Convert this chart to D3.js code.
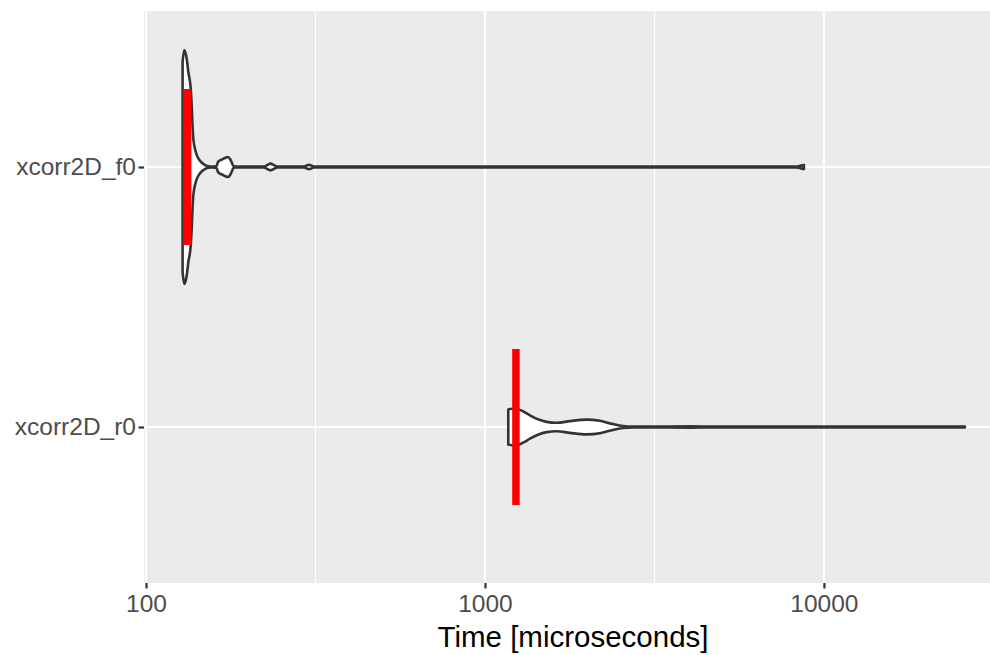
<!DOCTYPE html>
<html>
<head>
<meta charset="utf-8">
<script src="https://cdn.jsdelivr.net/npm/d3@7"></script>
<style>
  body { margin: 0; background: #fff; }
  text { font-family: "Liberation Sans", Arial, sans-serif; }
</style>
</head>
<body>
<svg id="chart" width="990" height="655"></svg>
<script>
// categories, bottom to top
var categories = ["xcorr2D_r0", "xcorr2D_f0"];

// violin outlines: time [us] and relative density
var f0Time = [128.2, 129.7, 131.9, 133.3, 135.5, 136.4, 137.0, 137.9, 140.2, 144.3, 149.3, 152.4,
              157.6, 161.4, 163.1, 165.9, 167.6, 171.0, 174.6, 177.0, 178.8, 180.6, 183.1,
              222.8, 227.5, 233.0, 238.6, 243.5,
              292.5, 297.5, 302.6, 307.7, 313.1,
              8213, 8441, 8614, 8730];
var f0Dens = [0.90, 1.0, 0.923, 0.812, 0.667, 0.521, 0.385, 0.239, 0.128, 0.054, 0.017, 0.005,
              0.003, 0.008, 0.043, 0.060, 0.064, 0.077, 0.085, 0.068, 0.043, 0.013, 0.003,
              0.003, 0.016, 0.029, 0.016, 0.003,
              0.003, 0.012, 0.018, 0.012, 0.003,
              0.003, 0.007, 0.014, 0.016];

var r0Time = [1171.5, 1201, 1251, 1303, 1357, 1433, 1521, 1627, 1781, 1995, 2184, 2386, 2554, 2734,
              3396, 4024, 4770, 26060];
var r0Dens = [0.150, 0.156, 0.152, 0.130, 0.100, 0.066, 0.044, 0.036, 0.050, 0.063, 0.053, 0.025, 0.008, 0.003,
              0.004, 0.005, 0.003, 0.003];

var medians = [1234, 132.6];

var tickValues = [100, 1000, 10000];
var minorValues = [316.2, 3162];

var width = 990, height = 655;
var panel = {left: 144, right: 990, top: 11, bottom: 583};

var svg = d3.select('#chart');

var x = d3.scaleLog()
    .domain([Math.pow(10, 1.994), Math.pow(10, 4.49)])
    .range([panel.left, panel.right]);

var y = d3.scalePoint()
    .domain(categories)
    .range([panel.bottom, panel.top])
    .padding(0.6);

var step = y.step();
var w = d3.scaleLinear().domain([0, 1]).range([0, 0.45 * step]);

// panel background
svg.append('rect')
    .attr('x', panel.left).attr('y', panel.top)
    .attr('width', panel.right - panel.left)
    .attr('height', panel.bottom - panel.top)
    .style('fill', '#EBEBEB');

// grid
svg.selectAll('.minor')
    .data(minorValues)
    .enter().append('line')
    .attr('x1', function (d) { return x(d); })
    .attr('x2', function (d) { return x(d); })
    .attr('y1', panel.top).attr('y2', panel.bottom)
    .style('stroke', '#fff').style('stroke-width', 1.1);

svg.selectAll('.majorx')
    .data(tickValues)
    .enter().append('line')
    .attr('x1', function (d) { return x(d); })
    .attr('x2', function (d) { return x(d); })
    .attr('y1', panel.top).attr('y2', panel.bottom)
    .style('stroke', '#fff').style('stroke-width', 2.2);

svg.selectAll('.majory')
    .data(categories)
    .enter().append('line')
    .attr('x1', panel.left).attr('x2', panel.right)
    .attr('y1', function (d) { return y(d); })
    .attr('y2', function (d) { return y(d); })
    .style('stroke', '#fff').style('stroke-width', 2.2);

// violins
var series = [
    {cat: "xcorr2D_r0", pts: r0Time.map(function (t, i) { return {t: t, d: r0Dens[i]}; })},
    {cat: "xcorr2D_f0", pts: f0Time.map(function (t, i) { return {t: t, d: f0Dens[i]}; })}
];

series.forEach(function (s) {
    var cy = y(s.cat);
    var area = d3.area()
        .x(function (d) { return x(d.t); })
        .y0(function (d) { return cy - w(d.d); })
        .y1(function (d) { return cy + w(d.d); })
        .curve(d3.curveMonotoneX);
    svg.append('path')
        .datum(s.pts)
        .attr('d', area)
        .style('fill', '#fff')
        .style('stroke', '#333333')
        .style('stroke-width', 2.6)
        .style('stroke-linejoin', 'round');
});

// median bars
svg.selectAll('.med')
    .data(medians)
    .enter().append('line')
    .attr('x1', function (d) { return x(d); })
    .attr('x2', function (d) { return x(d); })
    .attr('y1', function (d, i) { return y(categories[i]) - 0.3 * step; })
    .attr('y2', function (d, i) { return y(categories[i]) + 0.3 * step; })
    .style('stroke', '#FF0000')
    .style('stroke-width', 7.5);

// axes
var xAxis = svg.append('g')
    .attr('transform', 'translate(0,' + panel.bottom + ')')
    .call(d3.axisBottom(x).tickValues(tickValues).tickFormat(d3.format('d')).tickSize(5.5).tickPadding(3));
var yAxis = svg.append('g')
    .attr('transform', 'translate(' + panel.left + ',0)')
    .call(d3.axisLeft(y).tickSize(5.5).tickPadding(2.5));

[xAxis, yAxis].forEach(function (g) {
    g.select('.domain').remove();
    g.selectAll('.tick line').style('stroke', '#333333').style('stroke-width', 2.2);
    g.selectAll('.tick text')
        .style('fill', '#4D4D4D')
        .style('font-size', '24.5px')
        .style('font-family', '"Liberation Sans", Arial, sans-serif');
});
xAxis.selectAll('.tick text').attr('dy', '0.85em');

svg.append('text')
    .attr('x', (panel.left + panel.right) / 2 + 6)
    .attr('y', 647)
    .attr('text-anchor', 'middle')
    .style('font-size', '29.5px')
    .style('fill', '#000')
    .text('Time [microseconds]');
</script>
</body>
</html>
